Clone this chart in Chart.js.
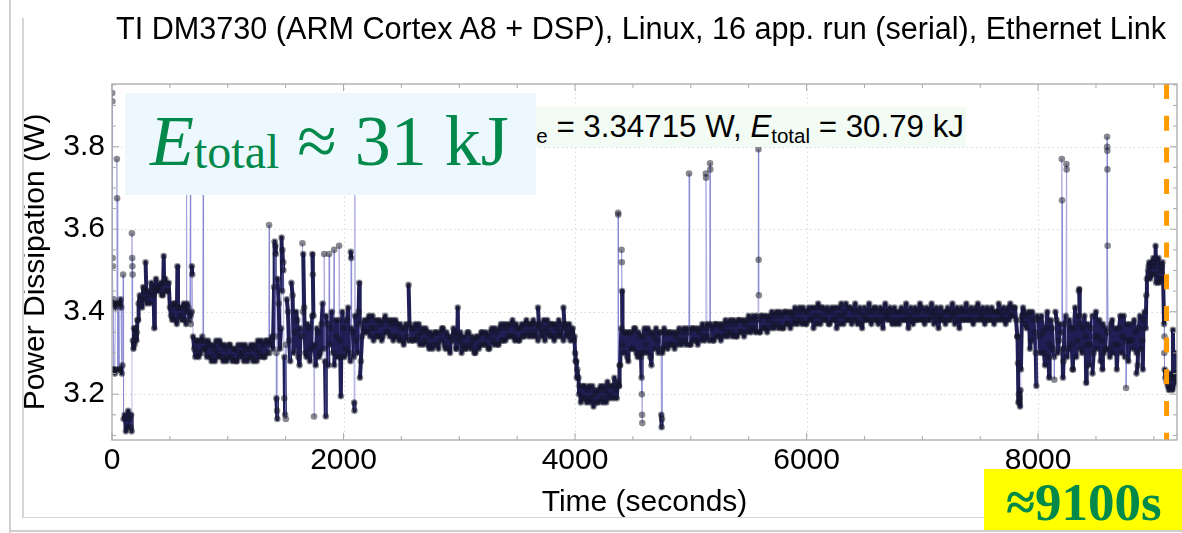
<!DOCTYPE html>
<html>
<head>
<meta charset="utf-8">
<script src="https://cdn.jsdelivr.net/npm/chart.js"></script>
<style>
html,body{margin:0;padding:0;background:#fff;}
#wrap{position:relative;width:1182px;height:533px;overflow:hidden;background:#fff;font-family:"Liberation Sans",Arial,Helvetica,sans-serif;}
#c{position:absolute;left:0;top:0;}
.deco{position:absolute;background:#cfcfcf;}
#title{position:absolute;left:116px;top:10px;font-size:30.6px;line-height:36px;white-space:nowrap;color:#000;}
#pavg{position:absolute;right:216px;top:106.5px;height:40px;line-height:40px;padding:0 2px 0 30px;font-size:31.3px;white-space:nowrap;color:#000;background:#f3fbf5;}
#pavg sub{font-size:20.5px;vertical-align:-6px;line-height:0;}
#ebox{position:absolute;left:125px;top:93px;width:411px;height:102px;background:#ecf8fd;}
#etext{position:absolute;left:150px;top:100.7px;font-family:"Liberation Serif","Times New Roman",serif;font-size:72px;line-height:80px;color:#00894a;white-space:nowrap;}
#etext .sub{font-size:48px;vertical-align:-3px;}
#ybox{position:absolute;left:984px;top:469px;width:198px;height:61px;background:#ffff00;}
#ytext{position:absolute;left:1006px;top:474.8px;font-family:"Liberation Serif","Times New Roman",serif;font-weight:bold;font-size:53px;line-height:54px;color:#00894a;white-space:nowrap;}
</style>
</head>
<body>
<div id="wrap">
  <canvas id="c" width="1182" height="533"></canvas>
  <div class="deco" style="left:9px;top:0;width:2px;height:533px;"></div>
  <div class="deco" style="left:9px;top:530px;width:1173px;height:2px;"></div>
  <div class="deco" style="left:22px;top:18px;width:1.5px;height:500px;background:#d6d6d6;"></div>
  <div class="deco" style="left:22px;top:516.5px;width:1160px;height:1.5px;background:#d6d6d6;"></div>
  <div id="title">TI DM3730 (ARM Cortex A8 + DSP), Linux, 16 app. run (serial), Ethernet Link</div>
  <div id="pavg"><i>P</i><sub>average</sub> = 3.34715 W, <i>E</i><sub>total</sub> = 30.79 kJ</div>
  <div id="ebox"></div>
  <div id="etext"><i>E</i><span class="sub">total</span> ≈ 31 kJ</div>
  <div id="ybox"></div>
  <div id="ytext">≈9100s</div>
</div>
<script>
// ---- data ----
const stepSeconds = 20;           // regular sampling of the main trace
// samples at t = 0, 20, 40, ... s
const powerW = [
  3.42, 3.26, 3.42, 3.26, 3.41, 3.14, 3.11, 3.16, 3.12, 3.33,   // 0 - 180 s
  3.36, 3.38, 3.44, 3.41, 3.45, 3.42, 3.44, 3.47, 3.44, 3.48,   // 200
  3.45, 3.47, 3.44, 3.48, 3.45, 3.41, 3.38, 3.42, 3.37, 3.41,   // 400
  3.38, 3.42, 3.37, 3.41, 3.37, 3.34, 3.29, 3.33, 3.30, 3.34,   // 600
  3.33, 3.29, 3.32, 3.28, 3.31, 3.33, 3.29, 3.32, 3.28, 3.31,   // 800
  3.29, 3.32, 3.28, 3.31, 3.28, 3.30, 3.32, 3.28, 3.31, 3.29,   // 1000
  3.32, 3.28, 3.31, 3.33, 3.29, 3.32, 3.29, 3.33, 3.30, 3.34,   // 1200
  3.46, 3.30, 3.42, 3.36, 3.50, 3.32, 3.40, 3.28, 3.44, 3.35,   // 1400
  3.38, 3.27, 3.34, 3.41, 3.29, 3.36, 3.31, 3.39, 3.27, 3.35,   // 1600
  3.30, 3.42, 3.28, 3.37, 3.32, 3.40, 3.27, 3.34, 3.38, 3.29,   // 1800
  3.36, 3.31, 3.41, 3.28, 3.35, 3.39, 3.30, 3.37, 3.34, 3.38,   // 2000
  3.35, 3.39, 3.36, 3.33, 3.38, 3.34, 3.37, 3.34, 3.39, 3.35,   // 2200
  3.34, 3.38, 3.34, 3.37, 3.33, 3.36, 3.32, 3.37, 3.33, 3.36,   // 2400
  3.33, 3.37, 3.34, 3.32, 3.36, 3.33, 3.35, 3.31, 3.34, 3.32,   // 2600
  3.35, 3.31, 3.33, 3.36, 3.31, 3.34, 3.30, 3.33, 3.35, 3.31,   // 2800
  3.33, 3.30, 3.34, 3.31, 3.35, 3.31, 3.33, 3.30, 3.34, 3.32,   // 3000
  3.35, 3.32, 3.34, 3.31, 3.36, 3.32, 3.35, 3.32, 3.37, 3.33,   // 3200
  3.33, 3.37, 3.34, 3.38, 3.33, 3.36, 3.33, 3.37, 3.34, 3.38,   // 3400
  3.34, 3.37, 3.38, 3.34, 3.33, 3.37, 3.35, 3.33, 3.38, 3.34,   // 3600
  3.37, 3.33, 3.36, 3.38, 3.34, 3.33, 3.37, 3.35, 3.33, 3.36,   // 3800
  3.30, 3.26, 3.22, 3.19, 3.22, 3.18, 3.22, 3.19, 3.17, 3.21,   // 4000
  3.18, 3.22, 3.18, 3.21, 3.23, 3.19, 3.22, 3.24, 3.19, 3.22,   // 4200
  3.36, 3.30, 3.35, 3.28, 3.35, 3.31, 3.36, 3.29, 3.34, 3.30,   // 4400
  3.36, 3.30, 3.35, 3.27, 3.34, 3.36, 3.30, 3.35, 3.31, 3.35,   // 4600
  3.31, 3.35, 3.32, 3.31, 3.35, 3.36, 3.32, 3.36, 3.32, 3.35,   // 4800
  3.32, 3.36, 3.33, 3.32, 3.36, 3.37, 3.33, 3.37, 3.33, 3.36,   // 5000
  3.33, 3.37, 3.34, 3.33, 3.37, 3.38, 3.34, 3.38, 3.34, 3.37,   // 5200
  3.34, 3.38, 3.35, 3.34, 3.38, 3.39, 3.35, 3.39, 3.35, 3.38,   // 5400
  3.35, 3.39, 3.36, 3.35, 3.39, 3.40, 3.36, 3.40, 3.36, 3.39,   // 5600
  3.36, 3.40, 3.37, 3.36, 3.40, 3.41, 3.37, 3.41, 3.37, 3.40,   // 5800
  3.37, 3.41, 3.38, 3.36, 3.41, 3.42, 3.37, 3.41, 3.38, 3.41,   // 6000
  3.37, 3.41, 3.38, 3.36, 3.41, 3.42, 3.37, 3.42, 3.38, 3.41,   // 6200
  3.38, 3.42, 3.37, 3.41, 3.36, 3.41, 3.38, 3.42, 3.37, 3.41,   // 6400
  3.41, 3.37, 3.41, 3.36, 3.42, 3.38, 3.41, 3.37, 3.41, 3.38,   // 6600
  3.37, 3.41, 3.38, 3.42, 3.36, 3.41, 3.37, 3.41, 3.38, 3.42,   // 6800
  3.41, 3.37, 3.41, 3.38, 3.42, 3.37, 3.41, 3.36, 3.41, 3.38,   // 7000
  3.37, 3.41, 3.38, 3.42, 3.37, 3.41, 3.36, 3.41, 3.38, 3.42,   // 7200
  3.38, 3.41, 3.37, 3.41, 3.42, 3.38, 3.41, 3.37, 3.41, 3.38,   // 7400
  3.41, 3.37, 3.40, 3.42, 3.38, 3.41, 3.37, 3.41, 3.42, 3.39,   // 7600
  3.41, 3.34, 3.19, 3.39, 3.40, 3.36, 3.40, 3.33, 3.38, 3.30,   // 7800
  3.38, 3.30, 3.35, 3.27, 3.40, 3.32, 3.36, 3.29, 3.38, 3.33,   // 8000
  3.35, 3.28, 3.39, 3.31, 3.36, 3.26, 3.41, 3.33, 3.37, 3.30,   // 8200
  3.39, 3.32, 3.27, 3.36, 3.30, 3.40, 3.34, 3.28, 3.37, 3.31,   // 8400
  3.35, 3.29, 3.38, 3.32, 3.26, 3.36, 3.30, 3.39, 3.33, 3.28,   // 8600
  3.37, 3.31, 3.35, 3.27, 3.39, 3.33, 3.40, 3.48, 3.52, 3.49,   // 8800
  3.51, 3.47, 3.53, 3.50, 3.48, 3.24, 3.22, 3.25, 3.21, 3.24,   // 9000
  3.23                                                          // 9200
];
// samples half-way between, at t = 10, 30, 50, ... s
const halfStepPowerW = [
  3.26, 3.41, 3.26, 3.42, 3.27, 3.15, 3.12, 3.14, 3.11, 3.36,   // 10 - 190 s
  3.33, 3.42, 3.43, 3.46, 3.43, 3.45, 3.42, 3.46, 3.45, 3.46,   // 210
  3.46, 3.44, 3.47, 3.45, 3.47, 3.39, 3.42, 3.38, 3.41, 3.39,   // 410
  3.41, 3.38, 3.42, 3.38, 3.40, 3.31, 3.33, 3.29, 3.33, 3.30,   // 610
  3.31, 3.33, 3.29, 3.32, 3.28, 3.30, 3.33, 3.29, 3.32, 3.28,   // 810
  3.32, 3.29, 3.31, 3.28, 3.32, 3.29, 3.30, 3.32, 3.28, 3.31,   // 1010
  3.29, 3.32, 3.28, 3.30, 3.33, 3.29, 3.33, 3.30, 3.33, 3.31,   // 1210
  3.34, 3.48, 3.31, 3.45, 3.29, 3.43, 3.33, 3.47, 3.30, 3.40,   // 1410
  3.29, 3.36, 3.40, 3.30, 3.37, 3.28, 3.39, 3.32, 3.36, 3.29,   // 1610
  3.37, 3.31, 3.39, 3.27, 3.36, 3.30, 3.38, 3.29, 3.33, 3.40,   // 1810
  3.29, 3.38, 3.30, 3.36, 3.29, 3.33, 3.40, 3.28, 3.36, 3.35,   // 2010
  3.38, 3.34, 3.39, 3.36, 3.34, 3.38, 3.33, 3.38, 3.35, 3.38,   // 2210
  3.37, 3.33, 3.38, 3.34, 3.37, 3.33, 3.36, 3.34, 3.37, 3.33,   // 2410
  3.36, 3.33, 3.37, 3.35, 3.32, 3.36, 3.32, 3.35, 3.31, 3.35,   // 2610
  3.32, 3.35, 3.36, 3.32, 3.35, 3.31, 3.34, 3.36, 3.31, 3.34,   // 2810
  3.35, 3.32, 3.31, 3.35, 3.32, 3.34, 3.30, 3.34, 3.31, 3.35,   // 3010
  3.32, 3.35, 3.31, 3.35, 3.33, 3.36, 3.32, 3.36, 3.33, 3.37,   // 3210
  3.36, 3.34, 3.37, 3.34, 3.37, 3.33, 3.36, 3.34, 3.37, 3.35,   // 3410
  3.37, 3.34, 3.35, 3.37, 3.36, 3.34, 3.38, 3.36, 3.35, 3.37,   // 3610
  3.34, 3.37, 3.34, 3.35, 3.37, 3.36, 3.34, 3.37, 3.35, 3.33,   // 3810
  3.28, 3.24, 3.18, 3.22, 3.19, 3.21, 3.18, 3.22, 3.20, 3.18,   // 4010
  3.21, 3.19, 3.22, 3.18, 3.20, 3.22, 3.19, 3.21, 3.23, 3.27,   // 4210
  3.32, 3.35, 3.29, 3.35, 3.31, 3.36, 3.30, 3.35, 3.29, 3.34,   // 4410
  3.32, 3.36, 3.29, 3.35, 3.31, 3.33, 3.35, 3.31, 3.36, 3.32,   // 4610
  3.35, 3.32, 3.35, 3.34, 3.32, 3.33, 3.35, 3.33, 3.36, 3.32,   // 4810
  3.36, 3.33, 3.36, 3.35, 3.33, 3.34, 3.36, 3.34, 3.37, 3.33,   // 5010
  3.37, 3.34, 3.37, 3.36, 3.34, 3.35, 3.37, 3.35, 3.38, 3.34,   // 5210
  3.38, 3.35, 3.38, 3.37, 3.35, 3.36, 3.38, 3.36, 3.39, 3.35,   // 5410
  3.39, 3.36, 3.39, 3.38, 3.36, 3.37, 3.39, 3.37, 3.40, 3.36,   // 5610
  3.40, 3.37, 3.40, 3.39, 3.37, 3.38, 3.40, 3.38, 3.41, 3.37,   // 5810
  3.40, 3.38, 3.41, 3.39, 3.37, 3.39, 3.41, 3.38, 3.40, 3.37,   // 6010
  3.40, 3.38, 3.41, 3.39, 3.37, 3.39, 3.40, 3.38, 3.41, 3.37,   // 6210
  3.40, 3.38, 3.40, 3.37, 3.39, 3.38, 3.40, 3.38, 3.40, 3.38,   // 6410
  3.38, 3.40, 3.38, 3.40, 3.39, 3.40, 3.38, 3.40, 3.37, 3.40,   // 6610
  3.40, 3.38, 3.40, 3.38, 3.39, 3.38, 3.40, 3.38, 3.40, 3.38,   // 6810
  3.38, 3.40, 3.38, 3.40, 3.39, 3.40, 3.38, 3.39, 3.38, 3.40,   // 7010
  3.40, 3.38, 3.40, 3.39, 3.40, 3.38, 3.40, 3.38, 3.40, 3.38,   // 7210
  3.40, 3.38, 3.40, 3.38, 3.40, 3.39, 3.38, 3.40, 3.38, 3.40,   // 7410
  3.38, 3.40, 3.38, 3.40, 3.39, 3.38, 3.40, 3.38, 3.39, 3.41,   // 7610
  3.38, 3.18, 3.38, 3.41, 3.37, 3.39, 3.31, 3.40, 3.35, 3.39,   // 7810
  3.34, 3.39, 3.30, 3.36, 3.29, 3.38, 3.31, 3.40, 3.30, 3.37,   // 8010
  3.31, 3.37, 3.29, 3.38, 3.32, 3.36, 3.29, 3.39, 3.31, 3.36,   // 8210
  3.34, 3.37, 3.32, 3.39, 3.34, 3.31, 3.38, 3.33, 3.30, 3.36,   // 8410
  3.31, 3.37, 3.30, 3.36, 3.32, 3.39, 3.34, 3.29, 3.37, 3.33,   // 8610
  3.33, 3.38, 3.30, 3.36, 3.31, 3.38, 3.36, 3.50, 3.48, 3.52,   // 8810
  3.49, 3.52, 3.48, 3.51, 3.30, 3.23, 3.21, 3.24, 3.22, 3.25    // 9010
];
// extra samples: spikes, dips and dense clusters seen in the picture
const extraTimeS = [
  1, 3, 5, 7, 9, 12, 15, 25, 35, 42, 44, 55, 65, 75, 85, 96,
  165, 172, 174, 176, 178, 185, 195, 205, 215, 225,
  290, 365, 447, 565, 644, 646, 678, 680, 690, 693, 788, 792, 1357, 1362,
  1405, 1412, 1415, 1420, 1425, 1428, 1465, 1472, 1480, 1488, 1495, 1502,
  1645, 1652, 1731, 1735, 1745, 1833, 1847, 1875, 1919, 1962, 1977,
  2063, 2066, 2092, 2095, 2098, 2136, 2142,
  2562, 2987, 3680, 3900,
  3995, 4005, 4015, 4035, 4372, 4374, 4376, 4385, 4402, 4404, 4406,
  4575, 4577, 4579, 4581, 4583, 4745, 4748, 4752, 4755,
  4985, 5130, 5132, 5166, 5168, 5584, 5586, 5588,
  7822, 7826, 7834, 7838, 7844, 7848, 7852,
  7985, 8095, 8140, 8205, 8207, 8215, 8245, 8247, 8300, 8352, 8355, 8415, 8470, 8555,
  8596, 8597, 8598, 8599, 8601, 8760, 8850, 8905,
  8935, 8955, 8995, 9015, 9045, 9075, 9088, 9092, 9094,
  9165, 9185
];
const extraPowerW = [
  3.93, 3.91, 3.53, 3.51, 3.42, 3.26, 3.43, 3.25, 3.42, 3.77, 3.675, 3.42, 3.26, 3.43, 3.25, 3.49,
  3.15, 3.59, 3.53, 3.51, 3.49, 3.31, 3.32, 3.34, 3.35, 3.38,
  3.52, 3.36, 3.535, 3.51, 3.80, 3.40, 3.78, 3.39, 3.51, 3.49, 3.76, 3.31, 3.61, 3.32,
  3.57, 3.56, 3.54, 3.19, 3.16, 3.14, 3.58, 3.55, 3.52, 3.19, 3.15, 3.14,
  3.566, 3.54, 3.54, 3.49, 3.146, 3.54, 3.146, 3.54, 3.55, 3.56, 3.195,
  3.545, 3.53, 3.18, 3.16, 3.75, 3.47, 3.24,
  3.465, 3.41, 3.41, 3.41,
  3.34, 3.28, 3.24, 3.20, 3.64, 3.635, 3.22, 3.27, 3.55, 3.52, 3.45,
  3.24, 3.20, 3.15, 3.13, 3.30, 3.15, 3.12, 3.14, 3.30,
  3.735, 3.735, 3.725, 3.76, 3.745, 3.794, 3.526, 3.44,
  3.34, 3.275, 3.20, 3.18, 3.17, 3.21, 3.26,
  3.22, 3.24, 3.235, 3.77, 3.67, 3.24, 3.758, 3.745, 3.26, 3.45, 3.455, 3.227, 3.25, 3.26,
  3.824, 3.80, 3.79, 3.745, 3.56, 3.215, 3.25, 3.26,
  3.44, 3.51, 3.53, 3.56, 3.47, 3.52, 3.37, 3.34, 3.26,
  3.356, 3.30
];
const endTimeS = 9110;            // orange dashed marker (≈9100 s)
const xTickValues = [0, 2000, 4000, 6000, 8000];
const xMinorTickValues = [500, 1000, 1500, 2500, 3000, 3500, 4500, 5000, 5500, 6500, 7000, 7500, 8500, 9000];
const yTickValues = [3.2, 3.4, 3.6, 3.8];
const yMinorTickValues = [3.1, 3.15, 3.25, 3.3, 3.35, 3.45, 3.5, 3.55, 3.65, 3.7, 3.75, 3.85, 3.9, 3.95];
const xRange = [0, 9200];
const yRange = [3.089, 3.952];

// ---- build ----
const tracePoints = powerW.map((v, i) => ({x: i * stepSeconds, y: v}));
halfStepPowerW.forEach((v, i) => tracePoints.push({x: i * stepSeconds + stepSeconds / 2, y: v}));
extraTimeS.forEach((t, i) => tracePoints.push({x: t, y: extraPowerW[i]}));
tracePoints.sort((a, b) => a.x - b.x);

const FONT = '"Liberation Sans", Arial, Helvetica, sans-serif';
const frameColor = '#a9a9a9';
const jumpW = 0.15;               // joins longer than this are drawn as thin light lines
const isJump = c => Math.abs(c.p1.parsed.y - c.p0.parsed.y) > jumpW ||
                    Math.abs(c.p1.parsed.x - c.p0.parsed.x) < 2.5;
const bandColor = 'rgb(31,31,86)';
const jumpColor = 'rgba(120,120,205,0.5)';

const framePlugin = {
  id: 'frame',
  beforeDatasetsDraw(chart) {
    const {ctx, chartArea: a, scales: {x, y}} = chart;
    ctx.save();
    ctx.strokeStyle = '#d8d8d8';
    ctx.lineWidth = 1;
    ctx.setLineDash([1.5, 3]);
    xTickValues.forEach(v => {
      if (v <= xRange[0]) return;
      const px = Math.round(x.getPixelForValue(v)) + 0.5;
      ctx.beginPath(); ctx.moveTo(px, a.top); ctx.lineTo(px, a.bottom); ctx.stroke();
    });
    yTickValues.forEach(v => {
      const py = Math.round(y.getPixelForValue(v)) + 0.5;
      ctx.beginPath(); ctx.moveTo(a.left, py); ctx.lineTo(a.right, py); ctx.stroke();
    });
    ctx.restore();
  },
  afterDatasetsDraw(chart) {
    const {ctx, chartArea: a, scales: {x, y}} = chart;
    ctx.save();
    ctx.strokeStyle = frameColor;
    ctx.lineWidth = 1.3;
    ctx.setLineDash([]);
    ctx.strokeRect(a.left, a.top, a.right - a.left, a.bottom - a.top);
    ctx.lineWidth = 1;
    const xt = (v, len) => {
      const px = x.getPixelForValue(v);
      ctx.beginPath(); ctx.moveTo(px, a.bottom); ctx.lineTo(px, a.bottom - len);
      ctx.moveTo(px, a.top); ctx.lineTo(px, a.top + len); ctx.stroke();
    };
    const yt = (v, len) => {
      const py = y.getPixelForValue(v);
      ctx.beginPath(); ctx.moveTo(a.left, py); ctx.lineTo(a.left + len, py);
      ctx.moveTo(a.right, py); ctx.lineTo(a.right - len, py); ctx.stroke();
    };
    xTickValues.forEach(v => xt(v, 7));
    xMinorTickValues.forEach(v => xt(v, 4));
    yTickValues.forEach(v => yt(v, 7));
    yMinorTickValues.forEach(v => yt(v, 4));
    ctx.restore();
  }
};

new Chart(document.getElementById('c'), {
  type: 'scatter',
  data: {
    datasets: [
      {
        label: 'end',
        data: [{x: endTimeS, y: yRange[1]}, {x: endTimeS, y: yRange[0]}],
        showLine: true,
        borderColor: '#ff9a00',
        borderWidth: 5,
        borderDash: [15, 16.7],
        borderCapStyle: 'butt',
        pointRadius: 0,
        clip: 0
      },
      {
        label: 'Power',
        data: tracePoints,
        showLine: true,
        borderColor: bandColor,
        borderWidth: 4,
        borderJoinStyle: 'round',
        borderCapStyle: 'round',
        tension: 0,
        segment: {
          borderColor: c => isJump(c) ? jumpColor : bandColor,
          borderWidth: c => isJump(c) ? 1 : 4
        },
        pointRadius: 3.3,
        pointBackgroundColor: 'rgba(20,20,35,0.5)',
        pointBorderWidth: 0,
        pointHoverRadius: 3.3
      }
    ]
  },
  options: {
    responsive: false,
    animation: false,
    devicePixelRatio: 1,
    events: [],
    layout: {padding: {top: 84, right: 5, bottom: 0, left: 0}},
    plugins: {legend: {display: false}, tooltip: {enabled: false}, title: {display: false}},
    scales: {
      x: {
        type: 'linear',
        min: xRange[0], max: xRange[1],
        afterBuildTicks: s => { s.ticks = xTickValues.map(v => ({value: v})); },
        afterFit: s => { s.height = 93; },
        grid: {display: false, drawTicks: false},
        border: {display: false},
        ticks: {color: '#000', font: {family: FONT, size: 30}, padding: 3, maxRotation: 0, autoSkip: false,
                callback: v => String(v)},
        title: {display: true, text: 'Time (seconds)', color: '#000', font: {family: FONT, size: 30},
                padding: {top: 0, bottom: 12}}
      },
      y: {
        type: 'linear',
        min: yRange[0], max: yRange[1],
        afterBuildTicks: s => { s.ticks = yTickValues.map(v => ({value: v})); },
        afterFit: s => { s.width = 112; },
        grid: {display: false, drawTicks: false},
        border: {display: false},
        ticks: {color: '#000', font: {family: FONT, size: 30}, padding: 7, autoSkip: false,
                callback: v => Number(v).toFixed(1)},
        title: {display: true, text: 'Power Dissipation (W)', color: '#000', font: {family: FONT, size: 30},
                padding: {top: 18, bottom: 0}}
      }
    }
  },
  plugins: [framePlugin]
});
</script>
</body>
</html>
